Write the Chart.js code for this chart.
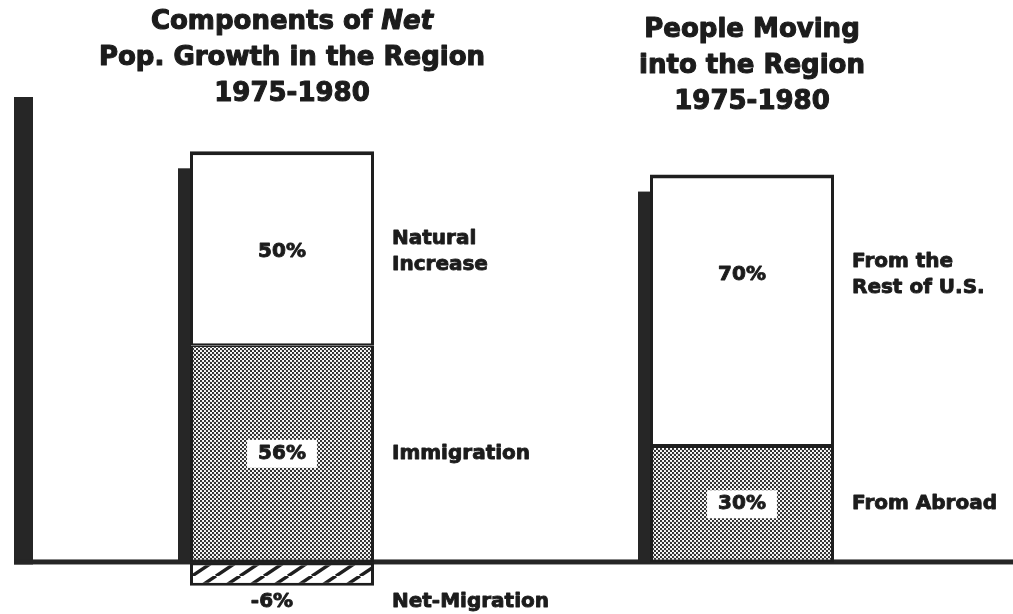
<!DOCTYPE html>
<html>
<head>
<meta charset="utf-8">
<script src="https://cdn.jsdelivr.net/npm/chart.js@4.4.1/dist/chart.umd.min.js"></script>
<style>
    html, body { margin: 0; padding: 0; background: #fff; }
    canvas { display: block; }
</style>
</head>
<body>
<canvas id="bieu-do" width="1013" height="614"></canvas>
<script>
// du lieu
const categories  = ["Components of Net Pop. Growth in the Region 1975-1980", "People Moving into the Region 1975-1980"];
const titleLines  = [
    ["Components of Net", "Pop. Growth in the Region", "1975-1980"],
    ["People Moving", "into the Region", "1975-1980"]
];
const italicWord  = "Net";
const lowerValues = [56, 30];     // Immigration / From Abroad
const upperValues = [50, 70];     // Natural Increase / From the Rest of U.S.
const belowValues = [-6, null];   // Net-Migration
const lowerNames  = [["Immigration"], ["From Abroad"]];
const upperNames  = [["Natural", "Increase"], ["From the", "Rest of U.S."]];
const belowNames  = [["Net-Migration"], null];

const mauChu = "#1c1c1c";
const fontChu = "'DejaVu Sans', 'Liberation Sans', sans-serif";

//mau cham (stipple)
function taoMauCham() {
    const c = document.createElement("canvas");
    c.width = 4; c.height = 4;
    const g = c.getContext("2d");
    g.fillStyle = "#fff";
    g.fillRect(0, 0, 4, 4);
    g.fillStyle = "#2a2a2a";
    const diem = [[1, 1], [3, 3]];
    for (let i = 0; i < diem.length; i++) {
        g.beginPath();
        g.arc(diem[i][0], diem[i][1], 1.15, 0, Math.PI * 2);
        g.fill();
    }
    return g.createPattern(c, "repeat");
}

//mau gach cheo (hatch)
function taoMauGach() {
    const w = 24, h = 16;
    const c = document.createElement("canvas");
    c.width = w; c.height = h;
    const g = c.getContext("2d");
    g.fillStyle = "#fff";
    g.fillRect(0, 0, w, h);
    g.strokeStyle = "#1e1e1e";
    g.lineWidth = 3.5;
    for (let k = -1; k <= 1; k++) {
        g.beginPath();
        g.moveTo(k * w, h);
        g.lineTo(k * w + w, 0);
        g.stroke();
    }
    return g.createPattern(c, "repeat");
}

//chu dam hon
function vietDam(ctx, txt, x, y) {
    ctx.fillText(txt, x, y);
    ctx.strokeText(txt, x, y);
}

//truc, duong day va bong cot
const bongVaTruc = {
    id: "bongVaTruc",
    beforeDatasetsDraw(chart) {
        const ctx = chart.ctx;
        const area = chart.chartArea;
        const y0 = chart.scales.y.getPixelForValue(0);
        ctx.save();
        ctx.fillStyle = "#262626";
        ctx.fillRect(area.left - 38, area.top, 19, y0 - area.top + 2);
        ctx.fillRect(area.left - 38, y0 - 3, chart.width, 5);
        const meta = chart.getDatasetMeta(1);
        for (let i = 0; i < meta.data.length; i++) {
            const el = meta.data[i];
            const trai = el.x - el.width / 2;
            ctx.fillRect(trai - 12, el.y + 17, 13, y0 - el.y - 17);
        }
        ctx.restore();
    }
};

function veNhieuDong(ctx, dong, x, yGiua, cao) {
    const y1 = yGiua - (dong.length - 1) * cao / 2;
    for (let k = 0; k < dong.length; k++) {
        vietDam(ctx, dong[k], x, y1 + k * cao);
    }
}

//nhan gia tri va ten
const nhanChu = {
    id: "nhanChu",
    afterDatasetsDraw(chart) {
        const ctx = chart.ctx;
        ctx.save();
        ctx.textBaseline = "middle";
        ctx.font = "bold 20px " + fontChu;
        ctx.strokeStyle = mauChu;
        ctx.lineWidth = 0.9;
        ctx.lineJoin = "round";

        for (let i = 0; i < categories.length; i++) {
            // phan duoi (cham)
            const elD = chart.getDatasetMeta(0).data[i];
            const yD = (elD.y + elD.base) / 2;
            const txtD = lowerValues[i] + "%";
            const rong = ctx.measureText(txtD).width + 22;
            ctx.fillStyle = "#fff";
            ctx.fillRect(elD.x - rong / 2, yD - 14, rong, 28);
            ctx.fillStyle = mauChu;
            ctx.textAlign = "center";
            vietDam(ctx, txtD, elD.x, yD);
            ctx.textAlign = "left";
            veNhieuDong(ctx, lowerNames[i], elD.x + elD.width / 2 + 18, yD, 26);

            // phan tren (trang)
            const elT = chart.getDatasetMeta(1).data[i];
            const yT = elT.y + 100;
            ctx.textAlign = "center";
            vietDam(ctx, upperValues[i] + "%", elT.x, yT);
            ctx.textAlign = "left";
            veNhieuDong(ctx, upperNames[i], elT.x + elT.width / 2 + 18, yT, 26);

            // phan am
            if (belowValues[i] !== null) {
                const elA = chart.getDatasetMeta(2).data[i];
                const yA = Math.max(elA.y, elA.base) + 16;
                ctx.textAlign = "center";
                vietDam(ctx, belowValues[i] + "%", elA.x - 10, yA);
                ctx.textAlign = "left";
                veNhieuDong(ctx, belowNames[i], elA.x + elA.width / 2 + 18, yA, 26);
            }
        }

        // tieu de
        ctx.lineWidth = 1.1;
        ctx.textAlign = "left";
        const dinh = [22, 30];
        for (let i = 0; i < titleLines.length; i++) {
            const cx = chart.scales.x.getPixelForValue(i) + 10;
            for (let k = 0; k < titleLines[i].length; k++) {
                const dong = titleLines[i][k];
                const y = dinh[i] + k * 36;
                if (dong.endsWith(" " + italicWord)) {
                    const dau = dong.slice(0, dong.length - italicWord.length);
                    ctx.font = "bold 26px " + fontChu;
                    const w1 = ctx.measureText(dau).width;
                    ctx.font = "italic bold 26px " + fontChu;
                    const w2 = ctx.measureText(italicWord).width;
                    const x0 = cx - (w1 + w2) / 2;
                    ctx.font = "bold 26px " + fontChu;
                    vietDam(ctx, dau, x0, y);
                    ctx.font = "italic bold 26px " + fontChu;
                    vietDam(ctx, italicWord, x0 + w1, y);
                } else {
                    ctx.font = "bold 26px " + fontChu;
                    const w = ctx.measureText(dong).width;
                    vietDam(ctx, dong, cx - w / 2, y);
                }
            }
        }
        ctx.restore();
    }
};

const mauCham = taoMauCham();
const mauGach = taoMauGach();
const vien = "#1e1e1e";

const ctx = document.getElementById("bieu-do").getContext("2d");
new Chart(ctx, {
    type: "bar",
    data: {
        labels: categories,
        datasets: [
            { label: "lower", data: lowerValues, backgroundColor: mauCham, borderColor: vien,
              borderWidth: { left: 3, right: 3, top: 2, bottom: 3 }, borderSkipped: false },
            { label: "upper", data: upperValues, backgroundColor: "#fff", borderColor: vien,
              borderWidth: { left: 3, right: 3, top: 4, bottom: 2 }, borderSkipped: false },
            { label: "below", data: belowValues, backgroundColor: mauGach, borderColor: vien,
              borderWidth: 3, borderSkipped: false }
        ]
    },
    options: {
        responsive: false,
        animation: false,
        events: [],
        barPercentage: 0.4,
        categoryPercentage: 1.0,
        layout: { padding: { left: 52, right: 41, top: 97, bottom: 5 } },
        scales: {
            x: { stacked: true, display: false, offset: true },
            y: { stacked: true, display: false, min: -12, max: 120 }
        },
        plugins: {
            legend: { display: false },
            title: { display: false },
            tooltip: { enabled: false }
        }
    },
    plugins: [bongVaTruc, nhanChu]
});
</script>
</body>
</html>
